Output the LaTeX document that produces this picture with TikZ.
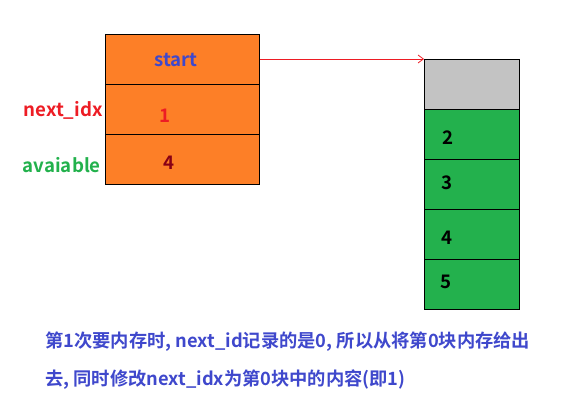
\documentclass[tikz,border=0pt]{standalone}
\usepackage{fontspec}
\setmainfont{Noto Sans CJK SC}[BoldFont={* Bold}]
\newfontfamily\cjk{Noto Sans CJK SC Bold}
\usetikzlibrary{arrows.meta}
\definecolor{orangefill}{RGB}{253,127,39}
\definecolor{greenfill}{RGB}{35,177,77}
\definecolor{grayfill}{RGB}{195,195,195}
\definecolor{bluetxt}{RGB}{63,72,204}
\definecolor{redtxt}{RGB}{237,28,36}
\definecolor{darkred}{RGB}{136,0,21}
\definecolor{greentxt}{RGB}{34,177,76}
\begin{document}
\begin{tikzpicture}[x=0.75pt,y=-0.75pt,
  cell/.style={draw=black,line width=1pt,minimum width=#1*0.75pt,inner sep=0pt,anchor=north west},
  lbl/.style={font=\cjk\fontsize{14}{16}\selectfont,inner sep=0pt},
  captxt/.style={font=\cjk\fontsize{13.7}{16}\selectfont,inner sep=0pt}]
\useasboundingbox (0,0) rectangle (577,409);
% left box
\node[cell=154,fill=orangefill,minimum height=37.5pt] (s0) at (105,34) {};
\node[cell=154,fill=orangefill,minimum height=37.5pt] (s1) at (105,84) {};
\node[cell=154,fill=orangefill,minimum height=37.5pt] (s2) at (105,134) {};
\node[lbl,text=bluetxt] (tstart) at (176,60) {start};
\node[lbl,text=redtxt] (tone) at (165,116) {1};
\node[lbl,text=darkred] (tfour) at (169,163) {4};
\node[lbl,text=redtxt,anchor=east] (tnext) at (103,110) {next\_idx};
\node[lbl,text=greentxt,anchor=east] (tavail) at (101,165) {avaiable};
% right box
\node[cell=95,fill=grayfill,minimum height=37.5pt] (b0) at (424,59) {};
\node[cell=95,fill=greenfill,minimum height=37.5pt] (b1) at (424,109) {};
\node[cell=95,fill=greenfill,minimum height=37.5pt] (b2) at (424,159) {};
\node[cell=95,fill=greenfill,minimum height=37.5pt] (b3) at (424,209) {};
\node[cell=95,fill=greenfill,minimum height=37.5pt] (b4) at (424,259) {};
\node[lbl] (n2) at (448,138) {2};
\node[lbl] (n3) at (447,183) {3};
\node[lbl] (n4) at (447,238) {4};
\node[lbl] (n5) at (446,282) {5};
% arrow
\draw[redtxt,line width=0.6pt,-{Straight Barb[length=4pt,width=6pt]}] (s0.north east |- 0,59) -- (b0.north west);
% caption
\node[captxt,text=bluetxt,anchor=west] (cap1) at (45,342) {第1次要内存时, next\_id记录的是0, 所以从将第0块内存给出};
\node[captxt,text=bluetxt,anchor=west] (cap2) at (45,380) {去, 同时修改next\_idx为第0块中的内容(即1)};
\end{tikzpicture}
\end{document}
